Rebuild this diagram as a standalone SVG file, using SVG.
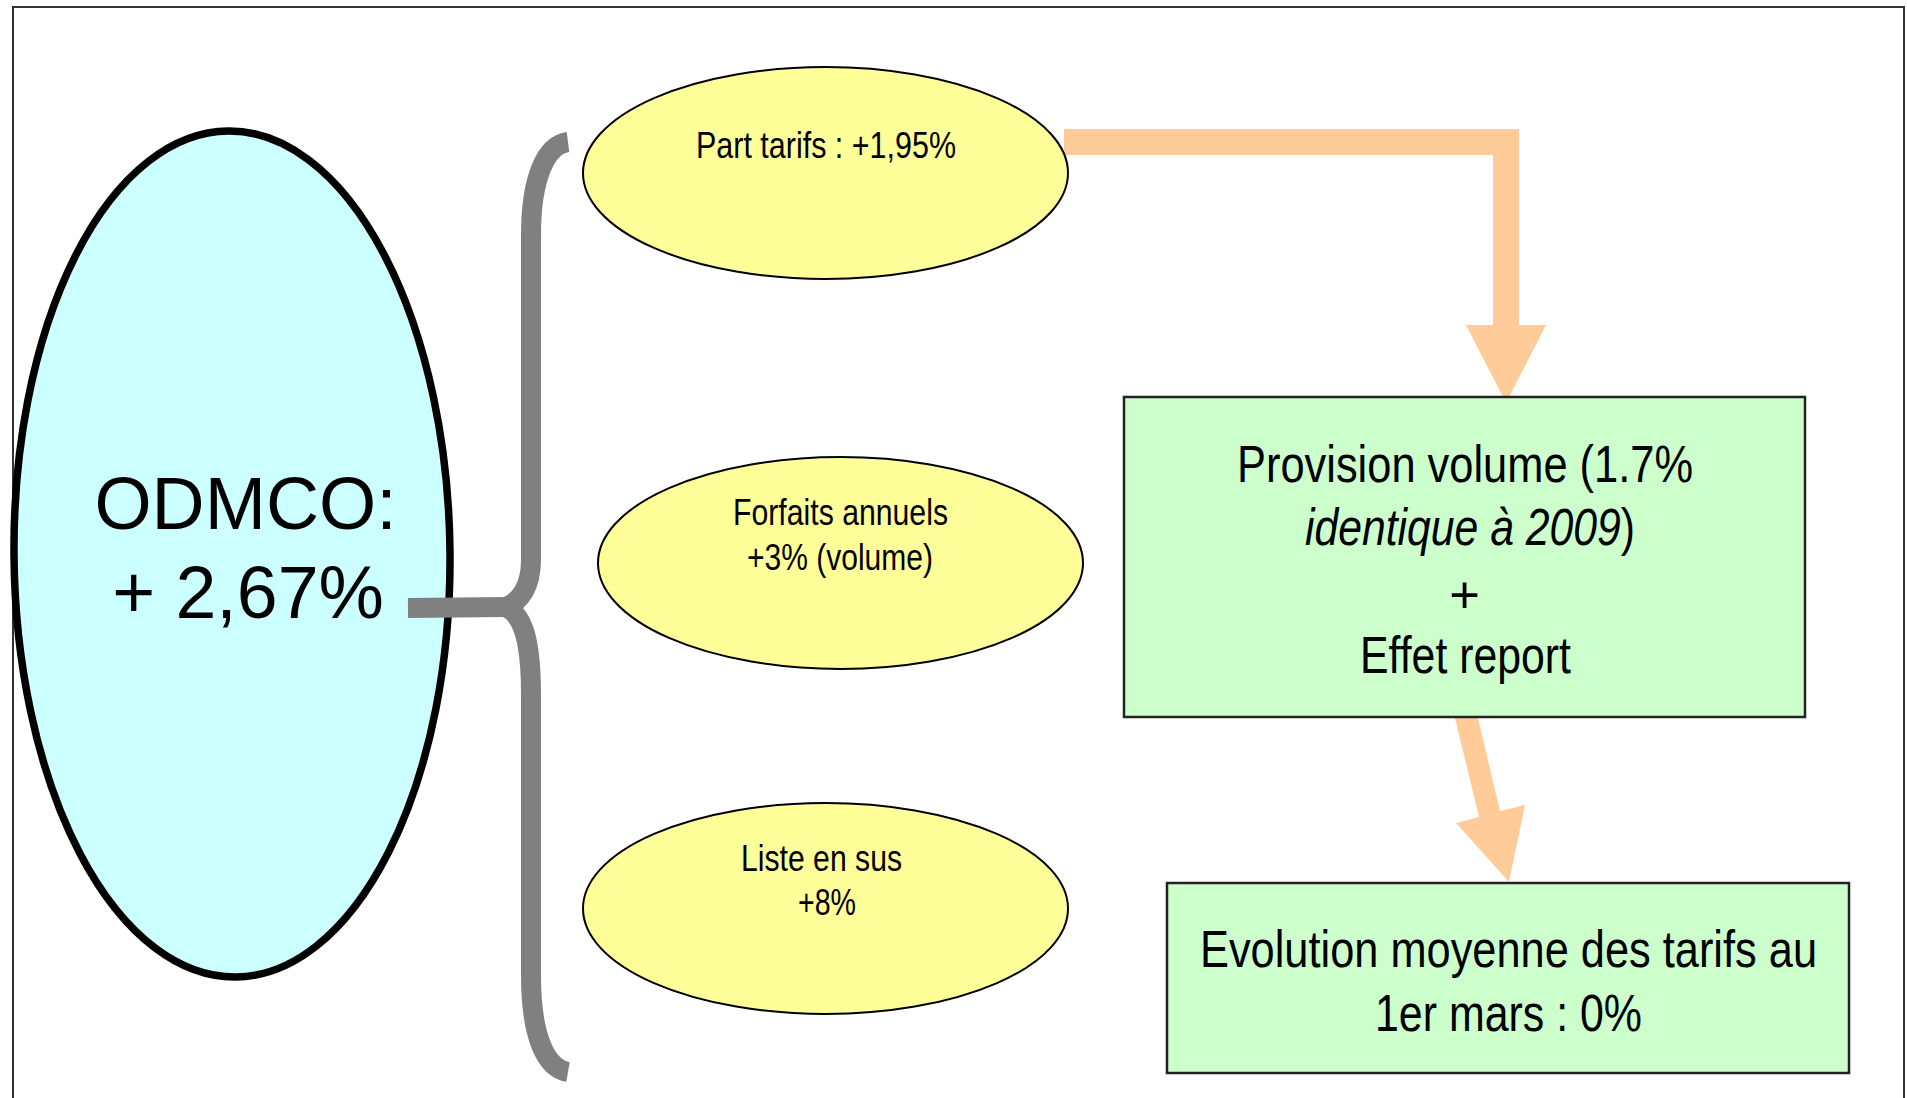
<svg xmlns="http://www.w3.org/2000/svg" width="1907" height="1098" viewBox="0 0 1907 1098">
<style>
.frame{fill:#ffffff;stroke:#333333;stroke-width:2}
.big{fill:#CCFFFF;stroke:#000000;stroke-width:7.5}
.yel{fill:#FFFF99;stroke:#000000;stroke-width:2}
.box{fill:#CCFFCC;stroke:#222222;stroke-width:2.5}
.brace{fill:none;stroke:#808080;stroke-width:20;stroke-linejoin:round}
.arrow{fill:#FFCC99;stroke:none}
.t{font-family:"Liberation Sans Narrow","Arial Narrow","Liberation Sans",Arial,sans-serif;fill:#000000;text-anchor:middle}
.big-t{font-family:"Liberation Sans",Arial,sans-serif;font-size:73.5px;fill:#000000;text-anchor:middle}
.s37{font-size:37px}
.s52{font-size:52.5px}
</style>
<rect class="frame" x="13" y="7" width="1891" height="1110"/>

<g id="odmco">
<ellipse class="big" cx="232" cy="554" rx="218" ry="423" transform="rotate(-0.5 232 554)"/>
<text class="big-t" x="245.5" y="529">ODMCO:</text>
<text class="big-t" x="248" y="618">+ 2,67%</text>
</g>

<g id="connectors">
<path class="brace" d="M 568 142 C 545 145, 531 180, 531 235 L 531 560 C 531 585, 521 602, 505 607 C 521 613, 531 635, 531 694 L 531 975 C 531 1035, 545 1068, 568 1072"/>
<path class="brace" d="M 408 608 L 507 607" stroke-width="17" stroke-linecap="butt"/>
<polygon class="arrow" points="1064,129 1519,129 1519,325 1546,325 1506,403 1466,325 1493,325 1493,155 1064,155"/>
<polygon class="arrow" points="1454,714 1477,714 1500,811 1525,805 1509,882 1456,823 1479,817"/>
</g>

<g id="part-tarifs">
<ellipse class="yel" cx="825.5" cy="173" rx="242.5" ry="106"/>
<text class="t s37" x="826" y="158" textLength="260" lengthAdjust="spacingAndGlyphs">Part tarifs : +1,95%</text>
</g>

<g id="forfaits">
<ellipse class="yel" cx="840.5" cy="563" rx="242.5" ry="106"/>
<text class="t s37" x="840.5" y="525" textLength="215" lengthAdjust="spacingAndGlyphs">Forfaits annuels</text>
<text class="t s37" x="840" y="570" textLength="186" lengthAdjust="spacingAndGlyphs">+3% (volume)</text>
</g>

<g id="liste">
<ellipse class="yel" cx="825.5" cy="908.5" rx="242.5" ry="105.5"/>
<text class="t s37" x="821.5" y="871" textLength="161" lengthAdjust="spacingAndGlyphs">Liste en sus</text>
<text class="t s37" x="827" y="915" textLength="58" lengthAdjust="spacingAndGlyphs">+8%</text>
</g>

<g id="provision">
<rect class="box" x="1124" y="397" width="681" height="320"/>
<text class="t s52" x="1465" y="482" textLength="456" lengthAdjust="spacingAndGlyphs">Provision volume (1.7%</text>
<text class="t s52" x="1470" y="545" textLength="330" lengthAdjust="spacingAndGlyphs"><tspan font-style="italic">identique à 2009</tspan>)</text>
<text class="t s52" x="1464.5" y="613">+</text>
<text class="t s52" x="1465.5" y="673" textLength="211" lengthAdjust="spacingAndGlyphs">Effet report</text>
</g>

<g id="evolution">
<rect class="box" x="1167" y="883" width="682" height="190"/>
<text class="t s52" x="1508.5" y="967" textLength="617" lengthAdjust="spacingAndGlyphs">Evolution moyenne des tarifs au</text>
<text class="t s52" x="1508.5" y="1031" textLength="267" lengthAdjust="spacingAndGlyphs">1er mars : 0%</text>
</g>
</svg>
